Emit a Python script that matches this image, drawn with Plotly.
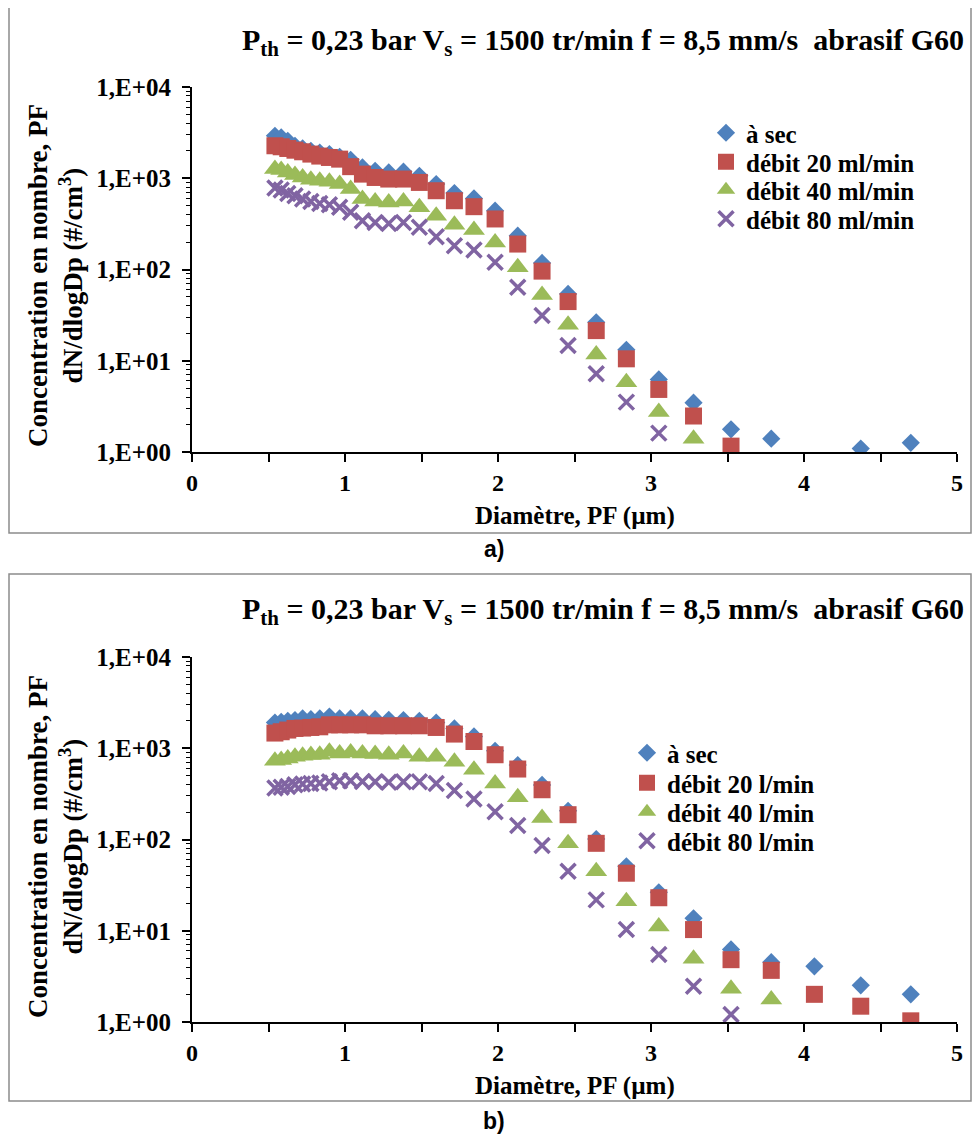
import plotly.graph_objects as go

# APS channel diameters (µm)
diam = [0.542, 0.583, 0.626, 0.673, 0.723, 0.777, 0.835, 0.898, 0.965, 1.037,
        1.114, 1.197, 1.286, 1.382, 1.486, 1.596, 1.715, 1.843, 1.981, 2.129,
        2.288, 2.458, 2.642, 2.839, 3.051, 3.278, 3.523, 3.786, 4.068, 4.371, 4.698]

# Chart a) series
a_sec = [2920, 2800, 2570, 2270, 2120, 2000, 1915, 1840, 1718, 1593,
         1313, 1208, 1157, 1180, 1065, 863, 689, 601, 441, 235,
         118, 54, 26.4, 13.2, 6.24, 3.47, 1.77, 1.40, None, 1.09, 1.26]
a_d20 = [2270, 2213, 2120, 2030, 1950, 1840, 1750, 1690, 1620, 1340,
         1110, 1020, 980, 980, 900, 730, 567, 488, 358, 190,
         96, 44.5, 21.4, 10.5, 4.85, 2.48, 1.16, None, None, None, None]
a_d40 = [1262, 1231, 1157, 1083, 1020, 964, 939, 915, 864, 762,
         592, 557, 543, 557, 480, 389, 310, 271, 198, 106,
         52.7, 24.8, 11.7, 5.8, 2.74, 1.40, None, None, None, None, None]
a_d80 = [781, 743, 682, 644, 592, 557, 530, 513, 480, 423,
         343, 328, 320, 328, 290, 229, 182, 164, 120, 64,
         31.3, 14.7, 7.2, 3.52, 1.61, None, None, None, None, None, None]

# Chart b) series
b_sec = [1915, 1950, 2000, 2034, 2120, 2085, 2120, 2228, 2120, 2120,
         2120, 2085, 2050, 2034, 2000, 1915, 1649, 1346, 939, 655,
         396, 206, 101, 50.9, 26.4, 13.7, 6.24, 4.53, 4.07, 2.52, 2.01]
b_d20 = [1467, 1517, 1583, 1649, 1664, 1690, 1718, 1806, 1806, 1806,
         1806, 1762, 1762, 1762, 1762, 1690, 1430, 1186, 849, 592,
         351, 187, 90.8, 42.7, 23, 10.3, 4.82, 3.68, 2.01, 1.49, 1.03]
b_d40 = [730, 743, 774, 807, 828, 843, 849, 915, 877, 900,
         877, 864, 849, 877, 807, 807, 711, 582, 412, 290,
         172, 91, 45, 21, 11.1, 4.94, 2.32, 1.76, None, None, None]
b_d80 = [367, 373, 382, 399, 406, 412, 416, 430, 441, 441,
         433, 430, 423, 430, 430, 412, 345, 278, 202, 142,
         86, 45, 21.8, 10.3, 5.5, 2.46, 1.21, None, None, None, None]

names_a = ["à sec", "débit 20 ml/min", "débit 40 ml/min", "débit 80 ml/min"]
names_b = ["à sec", "débit 20 l/min", "débit 40 l/min", "débit 80 l/min"]
title_text = "P<sub>th</sub> = 0,23 bar V<sub>s</sub> = 1500 tr/min f = 8,5 mm/s  abrasif G60"
ytitle_text = "Concentration en nombre, PF<br>dN/dlogDp (#/cm<sup>3</sup>)"
xtitle_text = "Diamètre, PF (µm)"
ytick_vals = [1, 10, 100, 1000, 10000]
ytick_text = ["1,E+00", "1,E+01", "1,E+02", "1,E+03", "1,E+04"]

# page body has an 8px margin: figure covers window pixels 8..980 / 8..1135
OFF = 8
W, H = 980 - OFF, 1135 - OFF
SERIF = "Liberation Serif, Times New Roman, serif"
colors = ["#4F81BD", "#C0504D", "#9BBB59", "#8064A2"]
styles = [
    dict(symbol="diamond", size=14, color=colors[0], line=dict(width=0)),
    dict(symbol="square", size=17, color=colors[1], line=dict(width=0)),
    dict(symbol="triangle-up", size=19, color=colors[2], line=dict(width=0)),
    dict(symbol="x-thin", size=15, color=colors[3], line=dict(width=3.5, color=colors[3])),
]

def px_x(p):
    return (p - OFF) / W

def px_y(p):
    return 1 - (p - OFF) / H

fig = go.Figure()

legend_font = dict(family=SERIF, size=25, color="black", weight="bold")
legends = {}
rows_a = [133, 162, 190, 219]
rows_b = [753, 783, 812, 841]
k = 1
for series_list, names, xaxis, yaxis, rows, lx in [
        ([a_sec, a_d20, a_d40, a_d80], names_a, "x", "y", rows_a, 706),
        ([b_sec, b_d20, b_d40, b_d80], names_b, "x2", "y2", rows_b, 627)]:
    for series, name, st, ry in zip(series_list, names, styles, rows):
        lname = "legend" if k == 1 else "legend%d" % k
        fig.add_trace(go.Scatter(x=diam, y=series, mode="markers", name=name,
                                 marker=st, xaxis=xaxis, yaxis=yaxis, legend=lname))
        legends[lname] = dict(x=px_x(lx), y=px_y(ry), xanchor="left", yanchor="middle",
                              font=legend_font, bgcolor="rgba(0,0,0,0)", itemwidth=30,
                              borderwidth=0)
        k += 1

minor_y = [m * 10 ** e for e in range(0, 4) for m in range(2, 10)]

def xaxis_def(domain_y_anchor):
    return dict(
        domain=[px_x(192), px_x(957)], anchor=domain_y_anchor, range=[0, 5],
        dtick=1, tick0=0, ticks="outside", ticklen=8, tickwidth=1.5, tickcolor="black",
        showline=True, linecolor="black", linewidth=2, showgrid=False, zeroline=False,
        tickfont=dict(family=SERIF, size=24, color="black", weight="bold"),
        minor=dict(dtick=0.5, ticks="outside", ticklen=8, tickwidth=1.5, tickcolor="black", showgrid=False),
        fixedrange=True, automargin=False,
    )

def yaxis_def(dom, xanchor):
    return dict(
        domain=dom, anchor=xanchor, type="log", range=[0, 4],
        tickmode="array", tickvals=ytick_vals, ticktext=ytick_text,
        ticks="outside", ticklen=8, tickwidth=1.5, tickcolor="black",
        showline=True, linecolor="black", linewidth=2, showgrid=False, zeroline=False,
        tickfont=dict(family=SERIF, size=25, color="black", weight="bold"),
        ticklabelstandoff=6,
        minor=dict(tickmode="array", tickvals=minor_y, ticks="outside", ticklen=4,
                   tickwidth=1, tickcolor="black", showgrid=False),
        fixedrange=True, automargin=False,
    )

fig.update_layout(
    width=W, height=H, margin=dict(l=0, r=0, t=0, b=0, pad=0, autoexpand=False),
    paper_bgcolor="white", plot_bgcolor="white",
    xaxis=xaxis_def("y"),
    yaxis=yaxis_def([px_y(452), px_y(87)], "x"),
    xaxis2=xaxis_def("y2"),
    yaxis2=yaxis_def([px_y(1022), px_y(657)], "x2"),
    showlegend=True,
    **legends,
)

shapes = []
for (y0, y1) in [(5, 533), (574, 1101)]:
    shapes.append(dict(type="rect", xref="paper", yref="paper",
                       x0=px_x(9), x1=px_x(971), y0=px_y(y1), y1=px_y(y0),
                       line=dict(color="#8C8C8C", width=1.5), fillcolor="rgba(0,0,0,0)"))
fig.update_layout(shapes=shapes)

annotations = []
for (ty, yc, xt, lab, labely) in [(42, 276, 516, "a)", 549), (611, 847, 1086, "b)", 1121)]:
    annotations.append(dict(text="<b>" + title_text + "</b>", xref="paper", yref="paper",
                            x=px_x(603), y=px_y(ty), xanchor="center", yanchor="middle",
                            showarrow=False, font=dict(family=SERIF, size=30, color="black")))
    annotations.append(dict(text="<b>" + ytitle_text + "</b>", xref="paper", yref="paper",
                            x=px_x(55), y=px_y(yc), xanchor="center", yanchor="middle",
                            textangle=-90, showarrow=False,
                            font=dict(family=SERIF, size=27, color="black")))
    annotations.append(dict(text="<b>" + xtitle_text + "</b>", xref="paper", yref="paper",
                            x=px_x(575), y=px_y(xt), xanchor="center", yanchor="middle",
                            showarrow=False, font=dict(family=SERIF, size=25, color="black")))
    annotations.append(dict(text="<b>" + lab + "</b>", xref="paper", yref="paper",
                            x=px_x(494), y=px_y(labely), xanchor="center", yanchor="middle",
                            showarrow=False,
                            font=dict(family="Liberation Sans, Arial, sans-serif", size=23, color="black")))
fig.update_layout(annotations=annotations)

fig.write_html("out.html")
